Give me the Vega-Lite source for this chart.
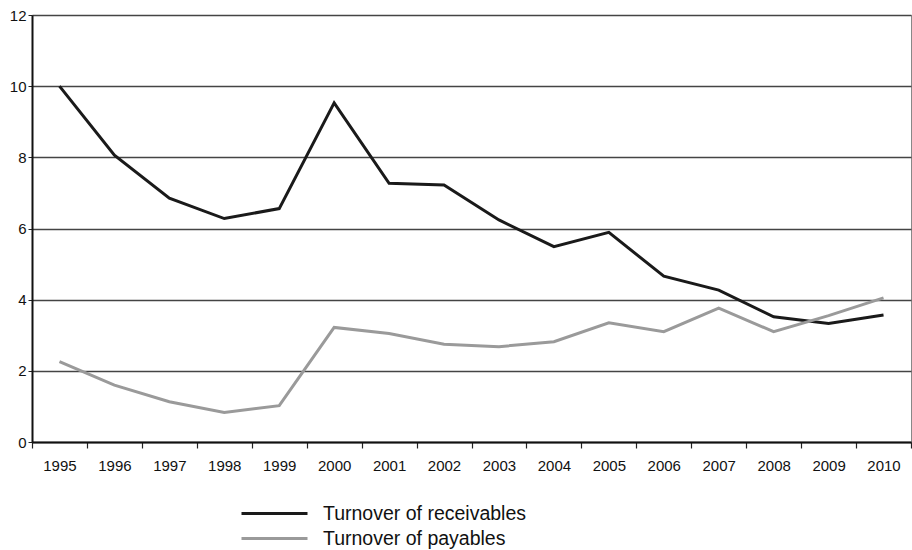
{
  "$schema": "https://vega.github.io/schema/vega-lite/v6.json",
  "width": 879,
  "height": 427,
  "autosize": {"type": "none"},
  "padding": {"left": 32, "top": 15, "right": 1, "bottom": 108},
  "background": "white",
  "config": {
    "view": {"stroke": "#888888", "strokeWidth": 1},
    "font": "Liberation Sans"
  },
  "data": {
    "values": [
      {"year": "1995", "series": "Turnover of receivables", "value": 10.0},
      {"year": "1996", "series": "Turnover of receivables", "value": 8.06},
      {"year": "1997", "series": "Turnover of receivables", "value": 6.85},
      {"year": "1998", "series": "Turnover of receivables", "value": 6.28},
      {"year": "1999", "series": "Turnover of receivables", "value": 6.56},
      {"year": "2000", "series": "Turnover of receivables", "value": 9.53},
      {"year": "2001", "series": "Turnover of receivables", "value": 7.27},
      {"year": "2002", "series": "Turnover of receivables", "value": 7.22},
      {"year": "2003", "series": "Turnover of receivables", "value": 6.24},
      {"year": "2004", "series": "Turnover of receivables", "value": 5.49},
      {"year": "2005", "series": "Turnover of receivables", "value": 5.89},
      {"year": "2006", "series": "Turnover of receivables", "value": 4.66},
      {"year": "2007", "series": "Turnover of receivables", "value": 4.27},
      {"year": "2008", "series": "Turnover of receivables", "value": 3.52},
      {"year": "2009", "series": "Turnover of receivables", "value": 3.33},
      {"year": "2010", "series": "Turnover of receivables", "value": 3.57},
      {"year": "1995", "series": "Turnover of payables", "value": 2.26},
      {"year": "1996", "series": "Turnover of payables", "value": 1.6},
      {"year": "1997", "series": "Turnover of payables", "value": 1.13},
      {"year": "1998", "series": "Turnover of payables", "value": 0.83},
      {"year": "1999", "series": "Turnover of payables", "value": 1.02},
      {"year": "2000", "series": "Turnover of payables", "value": 3.22},
      {"year": "2001", "series": "Turnover of payables", "value": 3.05},
      {"year": "2002", "series": "Turnover of payables", "value": 2.75},
      {"year": "2003", "series": "Turnover of payables", "value": 2.68},
      {"year": "2004", "series": "Turnover of payables", "value": 2.82},
      {"year": "2005", "series": "Turnover of payables", "value": 3.35},
      {"year": "2006", "series": "Turnover of payables", "value": 3.1},
      {"year": "2007", "series": "Turnover of payables", "value": 3.76},
      {"year": "2008", "series": "Turnover of payables", "value": 3.1},
      {"year": "2009", "series": "Turnover of payables", "value": 3.55},
      {"year": "2010", "series": "Turnover of payables", "value": 4.05}
    ]
  },
  "mark": {"type": "line", "strokeWidth": 3, "strokeJoin": "miter"},
  "encoding": {
    "x": {
      "field": "year",
      "type": "ordinal",
      "bandPosition": 0.5,
      "scale": {"type": "band", "paddingInner": 0, "paddingOuter": 0},
      "axis": {
        "title": null,
        "labelAngle": 0,
        "labelFont": "Liberation Sans",
        "labelFontSize": 15,
        "labelColor": "#111111",
        "tickBand": "extent",
        "tickSize": 6,
        "tickColor": "#222222",
        "tickWidth": 1.2,
        "labelPadding": 10,
        "domainColor": "#111111",
        "domainWidth": 2,
        "grid": false
      }
    },
    "y": {
      "field": "value",
      "type": "quantitative",
      "scale": {"domain": [0, 12], "nice": false},
      "axis": {
        "title": null,
        "values": [0, 2, 4, 6, 8, 10, 12],
        "labelFont": "Liberation Sans",
        "labelFontSize": 15,
        "labelColor": "#111111",
        "tickSize": 4,
        "tickColor": "#222222",
        "labelPadding": 2,
        "domainColor": "#111111",
        "domainWidth": 2,
        "grid": true,
        "gridColor": "#444444",
        "gridWidth": 1.5
      }
    },
    "color": {
      "field": "series",
      "type": "nominal",
      "sort": ["Turnover of receivables", "Turnover of payables"],
      "scale": {
        "domain": ["Turnover of receivables", "Turnover of payables"],
        "range": ["#1a1a1a", "#9a9a9a"]
      },
      "legend": {
        "title": null,
        "orient": "none",
        "legendX": 208,
        "legendY": 486,
        "padding": 0,
        "symbolType": "M-1,0H5",
        "symbolSize": 484,
        "symbolStrokeWidth": 3,
        "labelFont": "Liberation Sans",
        "labelFontSize": 19.5,
        "labelColor": "#111111",
        "labelOffset": 58,
        "rowPadding": 3,
        "labelLimit": 400
      }
    }
  }
}
